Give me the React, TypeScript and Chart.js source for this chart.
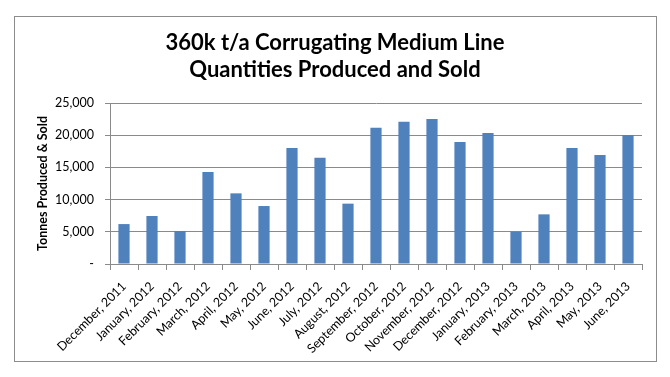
import React, { useEffect, useRef } from "react";
import { Chart, registerables } from "chart.js";

Chart.register(...registerables);

const categories = [
  "December, 2011",
  "January, 2012",
  "February, 2012",
  "March, 2012",
  "April, 2012",
  "May, 2012",
  "June, 2012",
  "July, 2012",
  "August, 2012",
  "September, 2012",
  "October, 2012",
  "November, 2012",
  "December, 2012",
  "January, 2013",
  "February, 2013",
  "March, 2013",
  "April, 2013",
  "May, 2013",
  "June, 2013",
];

const quantities = [
  6200, 7450, 5120, 14290, 10970, 9000, 18010, 16510, 9370, 21170, 22100,
  22510, 18940, 20340, 5020, 7710, 18010, 16920, 20030,
];

const yMin = 0;
const yMax = 25000;
const yStep = 5000;

const titleLines = [
  "360k t/a Corrugating Medium Line",
  "Quantities Produced and Sold",
];
const yAxisTitle = "Tonnes Produced & Sold";

const FONT = "Lato, 'Open Sans', sans-serif";
const GRID = "#8a8a8a";

export default function App() {
  const ref = useRef<HTMLCanvasElement>(null);

  useEffect(() => {
    if (!ref.current) return;
    const framePlugin = {
      id: "frame",
      beforeDraw(chart: any) {
        const ctx = chart.ctx;
        ctx.save();
        ctx.fillStyle = "#ffffff";
        ctx.fillRect(0, 0, chart.width, chart.height);
        ctx.strokeStyle = "#8c8c8c";
        ctx.lineWidth = 1;
        ctx.strokeRect(14.5, 16.5, 642, 345);
        ctx.fillStyle = "#000000";
        ctx.font = `bold 22px ${FONT}`;
        ctx.textAlign = "center";
        ctx.textBaseline = "alphabetic";
        ctx.fillText(titleLines[0], 335, 50);
        ctx.fillText(titleLines[1], 335, 77);
        ctx.restore();
      },
    };

    const chart = new Chart(ref.current, {
      type: "bar",
      data: {
        labels: categories,
        datasets: [
          {
            data: quantities,
            backgroundColor: "#4F81BD",
            borderWidth: 0,
            categoryPercentage: 1,
            barPercentage: 0.4,
          },
        ],
      },
      options: {
        responsive: false,
        animation: false,
        devicePixelRatio: 1,
        layout: { padding: { left: 14, right: 28, top: 103, bottom: 16 } },
        plugins: {
          legend: { display: false },
          title: { display: false },
          tooltip: { enabled: false },
        },
        scales: {
          x: {
            grid: {
              drawOnChartArea: false,
              drawTicks: true,
              tickLength: 6,
              color: GRID,
            },
            border: { color: GRID },
            ticks: {
              autoSkip: false,
              maxRotation: 45,
              minRotation: 45,
              padding: 9,
              color: "#000000",
              font: { family: FONT, size: 12.5 },
            },
            afterFit(scale: any) {
              scale.height = 97;
            },
          },
          y: {
            min: yMin,
            max: yMax,
            grid: { color: GRID, tickLength: 5 },
            border: { color: GRID },
            ticks: {
              stepSize: yStep,
              padding: 11,
              color: "#000000",
              font: { family: FONT, size: 12.5 },
              callback: (v: any) =>
                Number(v) === 0 ? "-" : Number(v).toLocaleString("en-US"),
            },
            title: {
              display: true,
              text: yAxisTitle,
              color: "#000000",
              font: { family: FONT, size: 12.5, weight: "bold" },
              padding: { top: 21, bottom: 0 },
            },
            afterFit(scale: any) {
              scale.width = 96;
            },
          },
        },
      },
      plugins: [framePlugin],
    });
    return () => chart.destroy();
  }, []);

  return (
    <div
      style={{
        position: "fixed",
        left: 0,
        top: 0,
        width: 670,
        height: 377,
        background: "#fff",
      }}
    >
      <canvas ref={ref} width={670} height={377} />
    </div>
  );
}
